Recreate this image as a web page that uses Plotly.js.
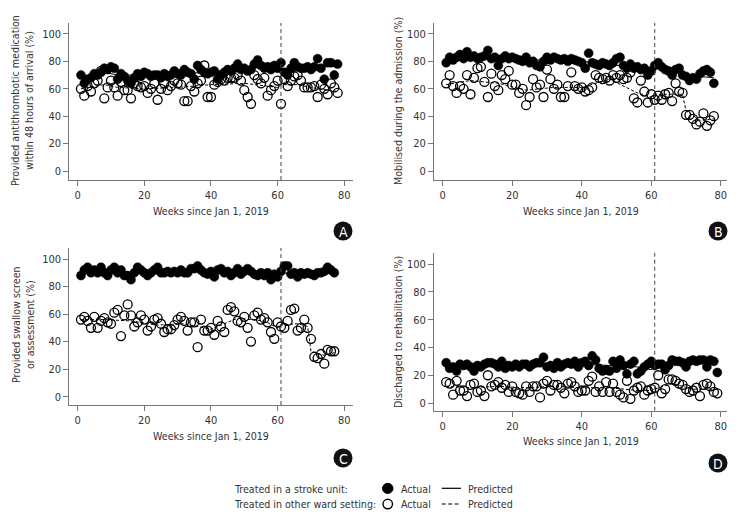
<!DOCTYPE html>
<html><head><meta charset="utf-8">
<script src="https://cdn.plot.ly/plotly-3.0.1.min.js"></script>
<style>html,body{margin:0;padding:0;background:#fff}#plot{width:740px;height:516px}</style>
</head><body><div id="plot"></div>
<script>
// ---- data (weekly %, week 1..n) ----
const xTicks = [0, 20, 40, 60, 80];
const yTicks = [0, 20, 40, 60, 80, 100];
const interventionWeek = 61;

const A_unit = [70,64,67,68,71,70,72,75,74,76,75,67,71,69,66,64,68,71,69,72,71,69,70,70,68,71,69,70,73,71,70,74,72,71,67,77,74,72,71,72,73,67,70,72,74,73,75,78,74,75,73,74,78,81,77,75,76,74,77,75,79,72,70,75,79,76,75,75,76,74,76,82,75,67,79,79,70,78];
const A_other = [60,55,62,58,64,66,73,53,61,66,61,55,65,59,59,53,64,62,61,62,57,60,64,52,60,64,59,62,66,64,63,51,51,62,58,64,66,77,54,54,63,65,67,66,68,68,68,70,66,59,54,49,70,67,64,68,55,59,62,66,49,67,62,66,69,70,66,61,61,61,62,54,63,60,56,64,61,57];
const B_unit = [79,83,81,83,85,82,87,83,84,82,83,84,88,82,83,77,82,84,82,83,82,81,80,83,79,80,77,76,80,83,81,83,82,81,82,80,82,81,80,79,75,86,79,78,77,79,78,77,79,82,83,77,75,78,75,76,74,75,70,73,77,79,76,74,73,70,74,75,70,69,66,68,67,71,73,74,72,64];
const B_other = [64,70,62,57,62,60,70,56,68,75,76,65,54,71,62,59,70,67,73,63,63,57,60,48,54,67,61,63,54,74,67,60,63,54,54,62,72,62,60,61,58,59,61,70,68,67,68,66,70,68,70,67,68,72,53,50,66,58,50,56,52,55,52,56,57,51,64,58,57,41,41,38,34,36,42,33,37,40];
const C_unit = [88,92,94,90,92,90,94,90,88,92,94,90,92,88,88,85,90,94,92,90,88,90,92,94,90,90,91,90,91,90,92,90,90,93,93,95,92,90,89,91,87,92,93,90,91,88,90,93,89,91,93,91,89,88,90,88,90,85,89,87,91,95,95,89,90,87,90,89,90,89,88,90,90,91,94,92,90];
const C_other = [56,58,55,50,58,50,55,57,54,53,61,63,44,59,67,59,51,54,59,56,48,51,56,57,53,47,49,49,52,56,58,55,48,54,54,36,56,48,48,50,45,55,51,47,63,65,62,55,54,58,50,40,59,61,56,57,54,47,42,54,51,50,55,63,64,48,50,56,50,42,29,28,31,24,34,33,33];
const D_unit = [29,25,26,23,28,27,28,26,23,27,26,28,29,29,28,26,30,25,27,26,28,26,28,28,26,28,29,29,33,26,27,25,29,26,28,29,28,30,26,29,30,27,34,31,25,23,24,23,30,25,31,27,21,28,30,21,23,26,28,30,27,28,28,24,27,31,30,30,29,26,30,31,30,31,31,26,31,30,22];
const D_other = [15,14,6,16,9,9,5,13,14,8,9,5,20,12,13,15,11,13,8,12,8,7,6,12,8,12,12,4,14,16,9,13,13,11,7,14,15,12,8,9,9,16,19,8,12,8,15,8,14,8,6,4,16,3,9,11,12,6,9,10,11,20,7,10,17,17,16,14,13,10,8,9,11,5,13,14,12,8,7];

// predicted (fitted) values, read at selected weeks
const A_predWeeks = [1,8,12,20,30,40,50,60,61,66,72,78];
const A_unitPred = [66,72,70,70,71,72,75,76,73,76,77,76];
const A_otherPred = [60,63,61,60,61,63,64,61,63,63,60,58];
const B_predWeeks = [1,8,16,24,32,40,48,56,60,61,66,69,70,74,78];
const B_unitPred = [84,84,82,81,81,80,78,75,73,76,73,71,68,69,68];
const B_otherPred = [63,66,64,59,61,61,67,57,54,56,56,56,44,37,38];
const C_predWeeks = [1,8,16,24,32,40,48,56,60,61,66,69,70,74,77];
const C_unitPred = [90,91,90,91,91,90,91,89,88,90,89,89,90,90,91];
const C_otherPred = [56,56,55,52,53,49,57,55,50,52,53,51,33,30,32];
const D_predWeeks = [1,8,16,24,32,40,48,56,60,61,66,72,79];
const D_unitPred = [27,27,27,27,28,28,27,26,24,27,29,29,28];
const D_otherPred = [12,11,12,11,12,11,11,9,9,10,14,10,10];

// ---- drawing ----
const W = 740, H = 516;
const fx = p => p / W, fy = p => 1 - p / H;
const FONT = "DejaVu Sans Condensed, sans-serif";
const TXT = "#333";
const TS = 10.6;

function weeks(n){ const w=[]; for(let i=1;i<=n;i++) w.push(i); return w; }

const panels = [
  {ax:'', unit:A_unit, other:A_other, pw:A_predWeeks, up:A_unitPred, op:A_otherPred},
  {ax:'2', unit:B_unit, other:B_other, pw:B_predWeeks, up:B_unitPred, op:B_otherPred},
  {ax:'3', unit:C_unit, other:C_other, pw:C_predWeeks, up:C_unitPred, op:C_otherPred},
  {ax:'4', unit:D_unit, other:D_other, pw:D_predWeeks, up:D_unitPred, op:D_otherPred},
];

const traces = [];
panels.forEach(p => {
  const xa = 'x' + p.ax, ya = 'y' + p.ax;
  traces.push({x:p.pw, y:p.up, xaxis:xa, yaxis:ya, mode:'lines', line:{color:'#000', width:1}, hoverinfo:'skip'});
  traces.push({x:p.pw, y:p.op, xaxis:xa, yaxis:ya, mode:'lines', line:{color:'#000', width:1, dash:'3px,2px'}, hoverinfo:'skip'});
  traces.push({x:weeks(p.unit.length), y:p.unit, xaxis:xa, yaxis:ya, mode:'markers',
    marker:{symbol:'circle', size:9, color:'#000', line:{color:'#000', width:0.5}}});
  traces.push({x:weeks(p.other.length), y:p.other, xaxis:xa, yaxis:ya, mode:'markers',
    marker:{symbol:'circle-open', size:9, color:'#000', line:{color:'#000', width:1.3}}});
});

const axBase = {showline:true, linecolor:'#777', linewidth:1, ticks:'outside', ticklen:5, tickwidth:1,
  tickcolor:'#777', showgrid:false, zeroline:false, tickfont:{family:FONT, size:11, color:TXT}, fixedrange:true};
const xA = {domain:[fx(69.3), fx(353.3)], range:[-2.5, 82.7]};
const xB = {domain:[fx(434), fx(726.7)], range:[-2.5, 81.7]};

const layout = {
  width: W, height: H, margin:{l:0,r:0,t:0,b:0}, showlegend:false,
  paper_bgcolor:'#fff', plot_bgcolor:'rgba(0,0,0,0)',
  font:{family:FONT, color:TXT},
  xaxis: Object.assign({}, axBase, xA, {anchor:'y', tickvals:xTicks}),
  yaxis: Object.assign({}, axBase, {anchor:'x', domain:[fy(180), fy(23)], range:[-6.57, 108], tickvals:yTicks}),
  xaxis2: Object.assign({}, axBase, xB, {anchor:'y2', tickvals:xTicks}),
  yaxis2: Object.assign({}, axBase, {anchor:'x2', domain:[fy(180), fy(23)], range:[-6.57, 108], tickvals:yTicks}),
  xaxis3: Object.assign({}, axBase, xA, {anchor:'y3', tickvals:xTicks}),
  yaxis3: Object.assign({}, axBase, {anchor:'x3', domain:[fy(405), fy(248)], range:[-6.03, 108], tickvals:yTicks}),
  xaxis4: Object.assign({}, axBase, xB, {anchor:'y4', tickvals:xTicks}),
  yaxis4: Object.assign({}, axBase, {anchor:'x4', domain:[fy(410.7), fy(253)], range:[-5.55, 108.1], tickvals:yTicks}),
  shapes: [],
  annotations: []
};

// intervention dashed lines
['', '2', '3', '4'].forEach(a => {
  layout.shapes.push({type:'line', xref:'x'+a, yref:'y'+a+' domain', x0:interventionWeek, x1:interventionWeek, y0:0, y1:1,
    line:{color:'#444', width:1, dash:'4px,3px'}});
});

function ann(text, x, y, opts){
  layout.annotations.push(Object.assign({text, x:fx(x), y:fy(y), xref:'paper', yref:'paper', showarrow:false,
    xanchor:'center', yanchor:'middle', font:{family:FONT, size:TS, color:TXT}}, opts||{}));
}
// x titles
ann('Weeks since Jan 1, 2019', 211, 211);
ann('Weeks since Jan 1, 2019', 581, 211);
ann('Weeks since Jan 1, 2019', 211, 436);
ann('Weeks since Jan 1, 2019', 581, 441);
// y titles
ann('Provided antithrombotic medication<br>within 48 hours of arrival (%)', 22, 101, {textangle:-90});
ann('Mobilised during the admission (%)', 398, 101, {textangle:-90});
ann('Provided swallow screen<br>or assessment (%)', 23, 325, {textangle:-90});
ann('Discharged to rehabilitation (%)', 398, 332, {textangle:-90});

// badges
function badge(letter, cx, cy){
  const r = 9.5;
  layout.shapes.push({type:'circle', xref:'paper', yref:'paper', x0:fx(cx-r), x1:fx(cx+r), y0:fy(cy+r), y1:fy(cy-r),
    fillcolor:'#111', line:{color:'#111', width:0}});
  ann(letter, cx, cy+0.5, {font:{family:FONT, size:14, color:'#fff'}});
}
badge('A', 343, 231);
badge('B', 718, 231);
badge('C', 343, 458);
badge('D', 718, 463);

// legend
ann('Treated in a stroke unit:', 231.7, 488.5, {xanchor:'left'});
ann('Treated in other ward setting:', 231.7, 504, {xanchor:'left'});
ann('Actual', 399, 488.5, {xanchor:'left'});
ann('Actual', 399, 504, {xanchor:'left'});
ann('Predicted', 466.5, 488.5, {xanchor:'left'});
ann('Predicted', 466.5, 504, {xanchor:'left'});
layout.shapes.push({type:'circle', xref:'paper', yref:'paper', x0:fx(382.5), x1:fx(393), y0:fy(493.5), y1:fy(483.3),
  fillcolor:'#000', line:{color:'#000', width:1}});
layout.shapes.push({type:'circle', xref:'paper', yref:'paper', x0:fx(383), x1:fx(392.5), y0:fy(508.8), y1:fy(499.3),
  fillcolor:'rgba(0,0,0,0)', line:{color:'#000', width:1.4}});
layout.shapes.push({type:'line', xref:'paper', yref:'paper', x0:fx(441.7), x1:fx(461), y0:fy(488.3), y1:fy(488.3),
  line:{color:'#000', width:1.2}});
layout.shapes.push({type:'line', xref:'paper', yref:'paper', x0:fx(441.7), x1:fx(461), y0:fy(504), y1:fy(504),
  line:{color:'#000', width:1.2, dash:'4px,2.5px'}});

Plotly.newPlot('plot', traces, layout, {staticPlot:true, displayModeBar:false});
</script></body></html>
